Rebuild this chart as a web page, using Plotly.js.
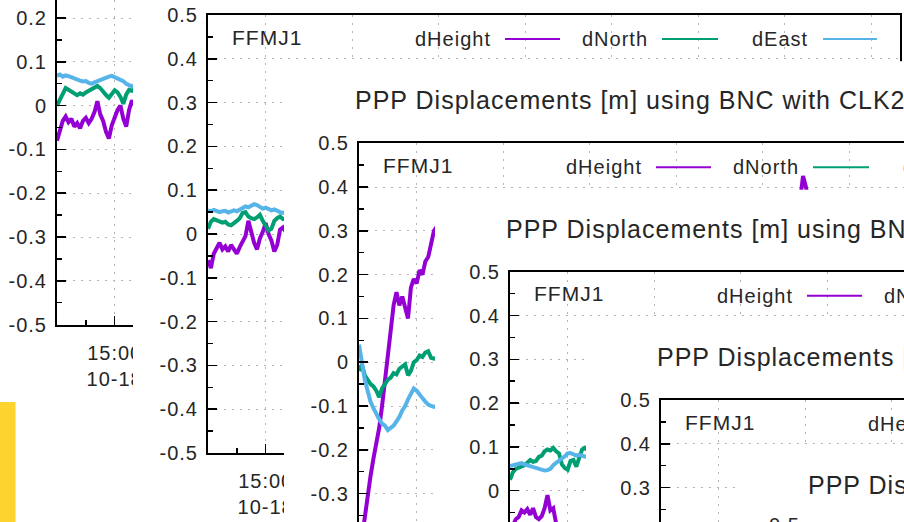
<!DOCTYPE html>
<html>
<head>
<meta charset="utf-8">
<script src="https://cdn.plot.ly/plotly-3.0.1.min.js"></script>
<style>
html, body { margin: 0; padding: 0; background: #ffffff; }
#chart { width: 904px; height: 522px; }
svg text { letter-spacing: 1px; }
</style>
</head>
<body>
<div id="chart"></div>
<script>
// ---------------- data ----------------
const seriesNames = ['dHeight', 'dNorth', 'dEast'];
const stationName = 'FFMJ1';
const chartTitle = 'PPP Displacements [m] using BNC with CLK2';
const yTickValues = [0.5, 0.4, 0.3, 0.2, 0.1, 0, -0.1, -0.2, -0.3, -0.4, -0.5];
const yTickLabels = ['0.5', '0.4', '0.3', '0.2', '0.1', '0', '-0.1', '-0.2', '-0.3', '-0.4', '-0.5'];
const yMinorTickValues = [0.45, 0.35, 0.25, 0.15, 0.05, -0.05, -0.15, -0.25, -0.35, -0.45];
const xTickFormat = '%H:%M<br>%m-%d';

const times = [
  '2013-10-18 14:53:20', '2013-10-18 14:53:40', '2013-10-18 14:54:00', '2013-10-18 14:54:20',
  '2013-10-18 14:54:40', '2013-10-18 14:55:00', '2013-10-18 14:55:20', '2013-10-18 14:55:40',
  '2013-10-18 14:56:00', '2013-10-18 14:56:20', '2013-10-18 14:56:40', '2013-10-18 14:57:00',
  '2013-10-18 14:57:20', '2013-10-18 14:57:40', '2013-10-18 14:58:00', '2013-10-18 14:58:20',
  '2013-10-18 14:58:40', '2013-10-18 14:59:00', '2013-10-18 14:59:20', '2013-10-18 14:59:40',
  '2013-10-18 15:00:00', '2013-10-18 15:00:20', '2013-10-18 15:00:40', '2013-10-18 15:01:00',
  '2013-10-18 15:01:20', '2013-10-18 15:01:40', '2013-10-18 15:02:00', '2013-10-18 15:02:20'
];

// panel 1 (leftmost, top)
const p1Height = [-0.080,-0.060,-0.035,-0.025,-0.038,-0.030,-0.048,-0.040,-0.052,-0.035,-0.028,-0.040,-0.030,-0.015,0.010,-0.020,-0.035,-0.060,-0.075,-0.045,-0.025,-0.010,0.000,-0.030,-0.048,-0.010,0.012,0.000];
const p1North  = [0.000,0.015,0.030,0.040,0.036,0.032,0.030,0.024,0.028,0.025,0.030,0.034,0.038,0.042,0.045,0.040,0.030,0.024,0.018,0.025,0.035,0.030,0.020,0.004,0.025,0.036,0.034,0.038];
const p1East   = [0.068,0.071,0.066,0.069,0.067,0.064,0.062,0.060,0.057,0.055,0.056,0.052,0.050,0.053,0.056,0.058,0.061,0.064,0.066,0.068,0.065,0.062,0.058,0.056,0.050,0.046,0.044,0.045];

// panel 2
const p2Height = [-0.060,-0.078,-0.045,-0.030,-0.020,-0.035,-0.028,-0.040,-0.025,-0.035,-0.045,-0.030,-0.015,-0.005,0.030,0.005,-0.020,-0.035,-0.010,0.005,0.025,0.000,-0.015,-0.040,-0.025,0.010,0.015,0.005];
const p2North  = [0.012,0.028,0.034,0.032,0.030,0.026,0.028,0.022,0.020,0.024,0.030,0.036,0.048,0.050,0.040,0.036,0.034,0.038,0.044,0.030,0.018,0.008,0.012,0.030,0.036,0.040,0.034,0.036];
const p2East   = [0.054,0.052,0.055,0.053,0.050,0.052,0.053,0.049,0.051,0.054,0.052,0.055,0.058,0.063,0.061,0.065,0.068,0.066,0.062,0.058,0.060,0.056,0.054,0.056,0.052,0.050,0.048,0.050];

// panel 3
const p3Height = [-0.45,-0.40,-0.36,-0.30,-0.26,-0.22,-0.19,-0.15,-0.10,-0.04,0.02,0.08,0.13,0.16,0.13,0.15,0.12,0.10,0.17,0.19,0.18,0.21,0.20,0.23,0.24,0.27,0.30,0.31];
const p3North  = [-0.020,-0.005,-0.030,-0.040,-0.050,-0.055,-0.065,-0.080,-0.060,-0.050,-0.040,-0.035,-0.025,-0.028,-0.015,-0.010,-0.005,-0.030,-0.020,0.000,0.005,0.015,0.012,0.022,0.025,0.010,0.008,0.010];
const p3East   = [0.040,0.000,-0.040,-0.065,-0.090,-0.105,-0.120,-0.130,-0.140,-0.145,-0.155,-0.150,-0.145,-0.135,-0.125,-0.110,-0.100,-0.085,-0.070,-0.060,-0.065,-0.075,-0.082,-0.090,-0.097,-0.100,-0.102,-0.100];
// later dHeight samples of panel 3 (only the short spike near the key is visible)
const p3HeightLateTimes = ['2013-10-18 15:44:20', '2013-10-18 15:44:40', '2013-10-18 15:45:00', '2013-10-18 15:45:20'];
const p3HeightLate = [0.37, 0.425, 0.40, 0.36];

// panel 4
const p4Height = [-0.090,-0.080,-0.065,-0.060,-0.045,-0.050,-0.042,-0.055,-0.040,-0.060,-0.065,-0.058,-0.040,-0.010,-0.045,-0.040,-0.075,-0.085,-0.090,-0.080,-0.085,-0.090,-0.085,-0.090,-0.095,-0.090,-0.085,-0.090];
const p4North  = [0.025,0.042,0.050,0.052,0.055,0.058,0.064,0.070,0.066,0.068,0.077,0.080,0.090,0.094,0.092,0.098,0.090,0.085,0.060,0.052,0.048,0.068,0.070,0.055,0.075,0.094,0.098,0.092];
const p4East   = [0.056,0.058,0.060,0.062,0.063,0.060,0.058,0.055,0.052,0.050,0.048,0.047,0.046,0.047,0.050,0.058,0.064,0.070,0.074,0.078,0.085,0.086,0.082,0.080,0.082,0.080,0.078,0.080];

// ---------------- geometry / style ----------------
const W = 904, H = 522;
const PW = 692, PH = 438;                     // plot box of one window
const panelLeft = [57, 208, 359, 510, 661, 812];
const panelTop  = [-113.4, 15, 143.2, 271.7, 400, 528.4];
const coverLeft = 75, coverTop = 82;          // window edge relative to plot box
const FONT = '"Liberation Sans", Arial, sans-serif';
const TXT = '#262626';
const GRID = '#b4b4b4';
const lineColors = ['#9400D3', '#009E73', '#56B4E9'];
const t0 = Date.UTC(2013, 9, 18, 14, 53, 20);
const spanMs = 80 * 60000;

const panelData = [
  [[times, p1Height], [times, p1North], [times, p1East]],
  [[times, p2Height], [times, p2North], [times, p2East]],
  [[times.concat(p3HeightLateTimes), p3Height.concat(p3HeightLate)], [times, p3North], [times, p3East]],
  [[times, p4Height], [times, p4North], [times, p4East]],
  []
];

const traces = [];
const layout = {
  width: W, height: H,
  margin: {l: 0, r: 0, t: 0, b: 0, pad: 0},
  paper_bgcolor: '#ffffff', plot_bgcolor: '#ffffff',
  showlegend: false,
  annotations: [], shapes: []
};

function hiddenAxes(n, xd, yd) {
  const s = n === 1 ? '' : String(n);
  layout['xaxis' + s] = {domain: xd, range: [0, 1], visible: false, fixedrange: true, anchor: 'y' + s};
  layout['yaxis' + s] = {domain: yd, range: [0, 1], visible: false, fixedrange: true, anchor: 'x' + s};
  traces.push({type: 'scatter', x: [], y: [], xaxis: 'x' + s, yaxis: 'y' + s, hoverinfo: 'skip'});
}

// full-page base so every later subplot gets its own (covering) background
hiddenAxes(1, [0, 1], [0, 1]);

const clamp01 = v => Math.max(0, Math.min(1, v));

for (let p = 0; p < 6; p++) {
  const L = panelLeft[p], T = panelTop[p];
  // white window of this screenshot covers the older ones
  if (p > 0) {
    const n = 1 + 2 * p;
    hiddenAxes(n, [clamp01((L - coverLeft) / W), 1], [0, clamp01(1 - (T - coverTop) / H)]);
  }
  if (p < 5) {
    const n = 2 + 2 * p, s = String(n);
    const vr = Math.min(L + PW, W);
    const vt = Math.max(T, 0), vb = Math.min(T + PH, H);
    const msPx = spanMs / PW;
    const labelled = p < 2;
    layout['xaxis' + s] = {
      type: 'date', anchor: 'y' + s,
      domain: [L / W, vr / W],
      range: [t0, t0 + (vr - L) * msPx],
      side: labelled ? 'bottom' : 'top',
      tick0: '2013-10-18 15:00:00', dtick: 600000,
      tickformat: xTickFormat,
      showticklabels: labelled,
      ticks: labelled ? 'inside' : '', ticklen: 9, tickwidth: 1.5, tickcolor: '#000',
      minor: labelled ? {tick0: '2013-10-18 15:00:00', dtick: 200000, ticks: 'inside', ticklen: 5, tickwidth: 1.5, tickcolor: '#000', showgrid: false} : undefined,
      showline: true, linecolor: '#000', linewidth: 2, mirror: p === 1,
      showgrid: true, gridcolor: GRID, griddash: '2px,6px', gridwidth: 1,
      zeroline: false, fixedrange: true,
      ticklabelstandoff: 9,
      tickfont: {family: FONT, size: 20, color: TXT}
    };
    layout['yaxis' + s] = {
      anchor: 'x' + s,
      domain: [1 - vb / H, 1 - vt / H],
      range: [0.5 - (vb - T) / PH, 0.5 - (vt - T) / PH],
      tickmode: 'array', tickvals: yTickValues, ticktext: yTickLabels,
      ticks: 'inside', ticklen: 9, tickwidth: 1.5, tickcolor: '#000',
      minor: {tickmode: 'array', tickvals: yMinorTickValues, ticks: 'inside', ticklen: 5, tickwidth: 1.5, tickcolor: '#000', showgrid: false},
      showline: true, linecolor: '#000', linewidth: 2, mirror: p === 1,
      showgrid: true, gridcolor: GRID, griddash: '2px,6px', gridwidth: 1,
      zeroline: false, fixedrange: true,
      ticklabelstandoff: 4,
      tickfont: {family: FONT, size: 20, color: TXT}
    };
    const series = panelData[p];
    if (series.length === 0) {
      traces.push({type: 'scatter', x: [], y: [], xaxis: 'x' + s, yaxis: 'y' + s, hoverinfo: 'skip'});
    }
    series.forEach((d, k) => {
      traces.push({
        type: 'scatter', mode: 'lines', name: seriesNames[k],
        x: d[0], y: d[1], xaxis: 'x' + s, yaxis: 'y' + s,
        line: {color: lineColors[k], width: 4}, hoverinfo: 'skip'
      });
    });
  }

  // texts of the window (station, key, title)
  const ann = (text, px, py, size, anchor) => ({
    text: text, xref: 'paper', yref: 'paper', x: px / W, y: 1 - py / H,
    xanchor: anchor, yanchor: 'middle', showarrow: false,
    font: {family: FONT, size: size, color: TXT}
  });
  layout.annotations.push(ann(stationName, L + 22, T + 22, 21, 'left'));
  layout.annotations.push(ann(chartTitle, L - 6, T - 43, 25, 'left'));
  const keyTextEnd = [285, 442, 602];
  const keyLine = [[297, 352], [454, 510], [615, 669]];
  for (let k = 0; k < 3; k++) {
    layout.annotations.push(ann(seriesNames[k], L + keyTextEnd[k], T + 24, 20, 'right'));
    layout.shapes.push({
      type: 'line', xref: 'paper', yref: 'paper', layer: 'above',
      x0: (L + keyLine[k][0]) / W, x1: (L + keyLine[k][1]) / W,
      y0: 1 - (T + 24) / H, y1: 1 - (T + 24) / H,
      line: {color: lineColors[k], width: 2}
    });
  }
  if (p === 5) {
    layout.annotations.push(ann(yTickLabels[0], L - 10, T - 3, 20, 'right'));
  }
}

// yellow desktop strip at the lower left
layout.shapes.push({
  type: 'rect', xref: 'paper', yref: 'paper', layer: 'above',
  x0: 0, x1: 15.5 / W, y0: 0, y1: 1 - 402 / H,
  fillcolor: '#FDD42F', line: {width: 0}
});

Plotly.newPlot('chart', traces, layout, {staticPlot: true, displayModeBar: false});
</script>
</body>
</html>
